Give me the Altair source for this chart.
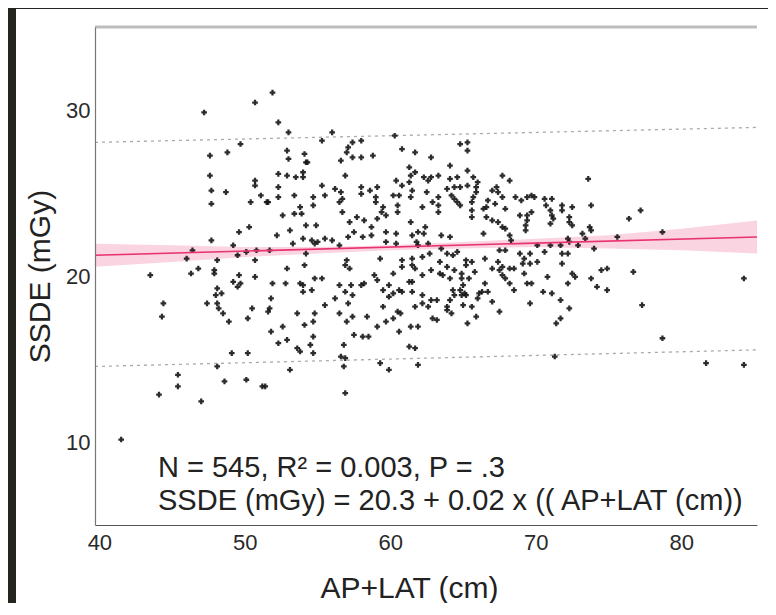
import altair as alt
import pandas as pd

# ---- data ----
ap_lat = [
    50.7, 47.2, 49.7, 48.8, 47.6, 47.6, 50.7, 50.7, 47.7, 48.7, 51.1, 47.7, 50.4, 50.3, 49.6, 47.7, 49.2, 46.4, 50.1, 50.8,
    46.0, 48.1, 49.5, 50.7, 51.5,
    43.5, 46.3, 46.8, 47.9, 47.9, 49.6, 50.7, 49.2, 49.7, 49.5, 48.1, 48.4, 48.0, 47.4, 48.1, 44.4, 48.2, 48.5, 50.5, 44.3,
    50.2, 48.9, 49.1, 50.2, 48.1, 45.4, 48.6, 50.1, 51.2, 45.4, 44.1, 47.0, 41.5,
    51.9, 52.3, 53.0, 56.0, 55.3, 57.4, 58.0, 60.3, 57.1, 57.0, 57.4, 58.0, 58.8, 60.8, 61.7, 62.8, 52.9, 54.1, 53.0, 54.2,
    54.3, 56.6, 54.0, 52.3, 52.9, 53.5, 54.0, 56.9, 61.3, 61.7, 61.4, 62.3, 62.6, 62.8, 52.3, 55.3, 56.2, 56.6, 58.0, 58.0,
    58.6, 59.1, 60.4, 60.8, 61.3, 60.6, 61.5, 62.5, 52.3, 53.4, 55.5, 54.7, 56.7, 59.0, 59.0, 60.2, 61.4, 51.6, 54.7, 53.8,
    56.5, 59.5, 59.4, 60.5, 60.5, 62.2, 62.9, 52.6, 53.4, 53.9, 56.7, 57.7, 57.2, 58.2, 59.1, 59.7, 54.2, 54.9, 58.7, 61.4,
    62.4, 52.2, 53.1, 57.5, 58.1, 59.7, 60.4, 58.7, 61.5, 61.9, 62.3, 54.0, 54.6, 54.8, 55.0, 55.5, 56.0, 56.5, 57.1, 53.3,
    59.7, 60.4, 61.8, 61.9, 62.6, 51.7, 54.2, 57.0, 59.3, 60.8, 61.5, 62.2, 62.7,
    54.1, 52.9, 56.9, 57.2, 51.9, 52.8, 53.8, 54.0, 54.8, 55.3, 56.5, 57.3, 58.0, 58.2, 58.9, 59.1, 60.2, 60.8, 61.5, 61.7,
    62.8, 62.2, 61.3, 61.5, 54.0, 54.6, 56.9, 57.4, 56.2, 51.8, 59.5, 59.9, 59.9, 60.2, 60.6, 60.8, 61.5, 62.2, 51.7, 51.6,
    54.8, 55.5, 57.1, 53.6, 56.5, 59.5, 60.5, 60.7, 61.7, 62.2, 62.6, 62.8, 54.7, 54.1, 57.0, 57.4, 58.4, 59.7, 60.2, 62.9,
    51.8, 52.6, 57.5, 58.1, 58.5, 59.1, 60.6, 61.4, 61.9, 54.7, 52.3, 52.9, 54.5, 53.6, 53.8, 56.8, 54.7, 61.3, 61.7, 56.6,
    56.9, 56.8, 59.3, 59.9, 61.9, 53.1, 51.4, 56.9,
    64.8, 65.3, 65.3, 64.1, 65.3, 63.3, 64.1, 64.6, 65.7, 66.0, 67.7, 68.2, 73.6, 63.9, 64.4, 64.8, 65.3, 65.9, 65.9, 67.3,
    67.4, 67.0, 63.3, 64.2, 64.4, 64.6, 64.8, 65.7, 67.7, 68.6, 69.0, 69.4, 69.7, 69.9, 70.6, 71.1, 63.3, 65.6, 66.7, 67.2,
    66.6, 66.4, 67.9, 70.7, 71.0, 71.8, 71.8, 72.5, 73.8, 63.3, 65.6, 65.6, 66.6, 67.0, 67.4, 67.7, 67.9, 68.9, 69.4, 69.7,
    69.4, 69.3, 69.3, 71.1, 71.2, 71.0, 72.3, 72.3, 72.5, 73.7, 73.8, 63.5, 64.1, 66.4, 68.2, 68.3, 73.2, 73.4, 72.2, 72.3,
    70.1, 71.0, 71.7, 72.9, 63.5, 63.9, 64.3, 64.6, 65.2, 66.5, 67.5, 67.9, 68.9, 69.6, 69.2, 70.6, 71.8, 72.2, 74.0,
    63.4, 63.9, 64.4, 64.9, 65.2, 65.6, 63.4, 63.6, 64.1, 64.9, 65.8, 67.0, 67.5, 67.7, 68.2, 68.5, 67.4, 69.1, 69.6, 70.1,
    71.8, 69.2, 67.7, 67.9, 65.4, 70.8, 72.5, 72.7, 73.8, 74.5, 65.0, 66.5, 68.2, 69.4, 69.7, 72.2, 74.2, 64.3, 64.8, 65.1,
    65.2, 64.4, 64.9, 66.1, 66.3, 66.7, 68.5, 70.5, 71.1, 64.1, 63.9, 63.2, 66.0, 67.0, 65.0, 65.6, 63.9, 64.2, 67.5, 69.6,
    71.7, 72.3, 65.9, 65.3, 71.4, 71.7, 63.2, 71.3,
    77.2, 76.4, 75.6, 78.7, 76.7, 74.9, 77.3, 84.3, 78.7, 81.7, 84.3, 74.9,
]
ssde = [
    30.5, 29.9, 28.0, 27.5, 27.3, 26.1, 25.8, 25.5, 25.2, 25.1, 24.9, 24.4, 24.5, 23.0, 22.7, 22.2, 21.9, 21.6, 21.5, 21.6,
    21.1, 21.0, 21.3, 21.0, 24.5,
    20.1, 20.2, 20.5, 20.4, 20.2, 20.1, 20.0, 19.7, 19.6, 19.4, 19.3, 19.0, 18.9, 18.4, 18.4, 18.4, 18.1, 17.8, 18.1, 17.6,
    17.5, 17.3, 15.4, 15.4, 14.6, 14.1, 13.7, 13.8, 13.4, 13.4, 12.9, 12.5, 10.2,
    31.1, 29.3, 28.7, 28.7, 28.2, 28.1, 28.2, 28.5, 27.8, 27.5, 27.2, 27.2, 27.3, 27.7, 27.5, 27.2, 27.6, 27.4, 27.1, 26.9,
    26.9, 27.0, 26.3, 26.2, 26.1, 26.0, 26.0, 26.1, 26.6, 26.3, 26.1, 26.0, 25.8, 26.0, 25.4, 25.5, 25.3, 25.1, 25.4, 25.0,
    25.2, 25.4, 25.8, 25.5, 25.7, 24.9, 25.2, 25.1, 24.8, 24.9, 24.9, 24.8, 24.7, 24.8, 24.5, 24.9, 24.8, 24.5, 24.3, 24.2,
    24.5, 24.2, 23.9, 24.3, 23.9, 24.2, 24.5, 23.7, 23.8, 23.8, 23.9, 23.6, 23.3, 23.4, 23.5, 23.7, 23.1, 23.1, 23.0, 23.3,
    23.0, 22.5, 22.8, 22.7, 22.4, 22.7, 22.6, 22.5, 22.5, 22.7, 22.6, 22.3, 22.2, 22.0, 22.1, 22.3, 22.2, 21.9, 22.4, 22.0,
    22.1, 22.0, 22.1, 21.9, 22.0, 21.6, 21.4, 21.0, 21.1, 21.0, 21.1, 21.2, 21.4,
    20.7, 20.5, 20.7, 20.5, 19.6, 19.6, 19.6, 19.5, 19.9, 19.9, 19.5, 19.5, 19.5, 19.6, 20.1, 19.8, 20.2, 20.6, 20.7, 20.5,
    20.4, 20.1, 19.7, 19.7, 19.1, 19.2, 19.1, 18.9, 18.7, 18.7, 19.2, 19.5, 18.8, 19.0, 19.2, 19.1, 19.1, 18.9, 18.1, 17.9,
    17.8, 18.3, 18.4, 17.8, 17.8, 18.2, 17.9, 17.8, 18.2, 18.4, 18.2, 18.6, 17.3, 17.1, 17.3, 17.6, 17.6, 17.3, 17.5, 17.5,
    16.7, 17.0, 16.5, 16.4, 16.4, 17.0, 16.7, 17.0, 17.0, 16.4, 16.0, 16.2, 15.9, 15.7, 15.5, 15.9, 15.4, 15.8, 15.7, 15.2,
    15.1, 14.6, 14.8, 14.4, 14.7, 14.4, 13.4, 13.0,
    28.0, 28.1, 27.6, 26.7, 26.4, 26.1, 25.9, 26.0, 26.0, 25.7, 26.1, 25.8, 25.9, 25.3, 25.4, 25.4, 25.5, 25.4, 25.1, 25.4,
    25.1, 25.2, 24.8, 24.9, 24.7, 24.5, 24.3, 24.8, 24.8, 24.8, 24.6, 24.8, 24.9, 24.8, 24.7, 24.7, 24.3, 24.5, 24.6, 24.4,
    24.2, 24.1, 24.1, 24.3, 24.0, 24.3, 24.0, 24.2, 24.3, 23.9, 24.0, 23.6, 23.6, 23.4, 23.3, 23.0, 22.9, 23.7, 23.7, 23.9,
    23.4, 23.1, 22.8, 23.7, 23.5, 23.2, 23.6, 23.3, 23.1, 23.0, 22.8, 22.5, 22.4, 22.6, 22.5, 22.2, 22.6, 22.3, 22.3, 22.1,
    21.9, 21.9, 21.9, 21.9, 21.7, 21.4, 21.3, 21.5, 21.0, 21.1, 21.6, 21.6, 21.4, 21.4, 21.1, 21.5, 21.4, 21.4, 21.7,
    20.9, 20.6, 20.4, 20.2, 20.7, 20.9, 20.2, 20.1, 19.9, 19.9, 20.3, 20.5, 20.4, 20.6, 20.5, 20.5, 20.9, 20.8, 20.8, 20.9,
    20.8, 20.2, 20.1, 19.9, 19.9, 20.0, 20.2, 20.0, 19.9, 20.4, 19.5, 19.6, 19.6, 19.6, 19.6, 19.6, 19.4, 19.2, 19.2, 19.0,
    18.9, 18.9, 18.9, 19.0, 19.1, 19.1, 19.2, 19.1, 19.0, 18.6, 18.2, 18.6, 18.7, 18.5, 18.3, 18.2, 18.0, 17.8, 17.9, 18.4,
    18.6, 18.1, 17.6, 17.2, 17.2, 17.5, 17.4, 15.2,
    24.0, 23.5, 22.4, 22.7, 20.3, 19.2, 18.3, 19.9, 16.3, 14.8, 14.7, 20.5,
]

# regression line, its confidence band and the prediction limits
reg_x = [39.7, 85.2]
reg_y = [21.3, 22.4]
band_x = [39.7, 45.0, 50.0, 55.0, 60.0, 65.0, 70.0, 75.0, 80.0, 85.2]
band_lo = [20.6, 20.9, 21.2, 21.4, 21.6, 21.7, 21.8, 21.7, 21.6, 21.4]
band_hi = [22.0, 21.9, 21.8, 21.8, 21.9, 22.1, 22.3, 22.5, 22.9, 23.4]
pi_x = [39.7, 85.2]
pi_upper = [28.1, 29.0]
pi_lower = [14.6, 15.6]

ann_line1 = "N = 545, R\u00b2 = 0.003, P = .3"
ann_line2 = "SSDE (mGy) = 20.3 + 0.02 x (( AP+LAT (cm))"

W, H = 662, 498
FONT = "Liberation Sans"

pts = pd.DataFrame({"x": ap_lat, "y": ssde})
reg = pd.DataFrame({"x": reg_x, "y": reg_y})
band = pd.DataFrame({"x": band_x, "lo": band_lo, "hi": band_hi})
pi = pd.DataFrame({"x": pi_x * 2, "y": pi_upper + pi_lower,
                   "g": ["up"] * len(pi_x) + ["lo"] * len(pi_x)})
one = pd.DataFrame({"a": [0]})

xs = alt.Scale(domain=[39.7, 85.2], nice=False, zero=False)
ys = alt.Scale(domain=[5.05, 35.05], nice=False, zero=False)

xaxis = alt.Axis(values=[40, 50, 60, 70, 80], grid=False, ticks=False, domainColor="#555",
                 domainWidth=1.2, labelFont=FONT, labelFontSize=22, labelColor="#2a2a2a",
                 labelPadding=7, title="AP+LAT (cm)", titleFont=FONT, titleFontSize=30,
                 titleFontWeight="normal", titleColor="#222", titleX=314, titleY=72,
                 titleBaseline="alphabetic", zindex=2)
yaxis = alt.Axis(values=[10, 20, 30], grid=False, ticks=False, domainColor="#777",
                 domainWidth=1.2, labelFont=FONT, labelFontSize=22, labelColor="#2a2a2a",
                 labelPadding=5, title="SSDE (mGy)", titleFont=FONT, titleFontSize=30,
                 titleFontWeight="normal", titleColor="#222", titleAngle=270,
                 titleX=-46, titleY=249, titleBaseline="alphabetic", zindex=2)

panel = alt.Chart(one).mark_rect(color="white").encode(
    x=alt.value(-79), x2=alt.value(W + 11), y=alt.value(-18), y2=alt.value(H + 78))

band_layer = alt.Chart(band).mark_area(color="#ee6f98", opacity=0.3).encode(
    x=alt.X("x:Q", scale=xs, axis=xaxis), y=alt.Y("lo:Q", scale=ys, axis=yaxis), y2="hi:Q")

pi_layer = alt.Chart(pi).mark_line(color="#aaaaaa", strokeDash=[3, 4], strokeWidth=1.3).encode(
    x=alt.X("x:Q", scale=xs), y=alt.Y("y:Q", scale=ys), detail="g:N")

pt_layer = alt.Chart(pts).mark_point(shape="cross", filled=True, size=32, color="#151515",
                                     opacity=0.9).encode(
    x=alt.X("x:Q", scale=xs), y=alt.Y("y:Q", scale=ys))

reg_layer = alt.Chart(reg).mark_line(color="#e8336e", strokeWidth=1.6).encode(
    x=alt.X("x:Q", scale=xs), y=alt.Y("y:Q", scale=ys))

top_rule = alt.Chart(one).mark_rule(color="#bdbdbd", strokeWidth=3).encode(
    x=alt.value(0), x2=alt.value(W), y=alt.value(0))

txt1 = alt.Chart(one).mark_text(text=ann_line1, font=FONT, fontSize=29, color="#222",
                                align="left", baseline="alphabetic").encode(
    x=alt.value(63), y=alt.value(450))
txt2 = alt.Chart(one).mark_text(text=ann_line2, font=FONT, fontSize=29, color="#222",
                                align="left", baseline="alphabetic").encode(
    x=alt.value(63), y=alt.value(483))

chart = alt.layer(panel, band_layer, pi_layer, pt_layer, reg_layer, top_rule, txt1, txt2).properties(
    width=W, height=H,
    padding={"left": 87, "top": 19, "right": 11, "bottom": 78},
    autosize=alt.AutoSizeParams(type="none"),
    background="#25251f",
).configure_view(strokeWidth=0)

chart.save("out.html", embed_options={"renderer": "svg", "actions": False})
